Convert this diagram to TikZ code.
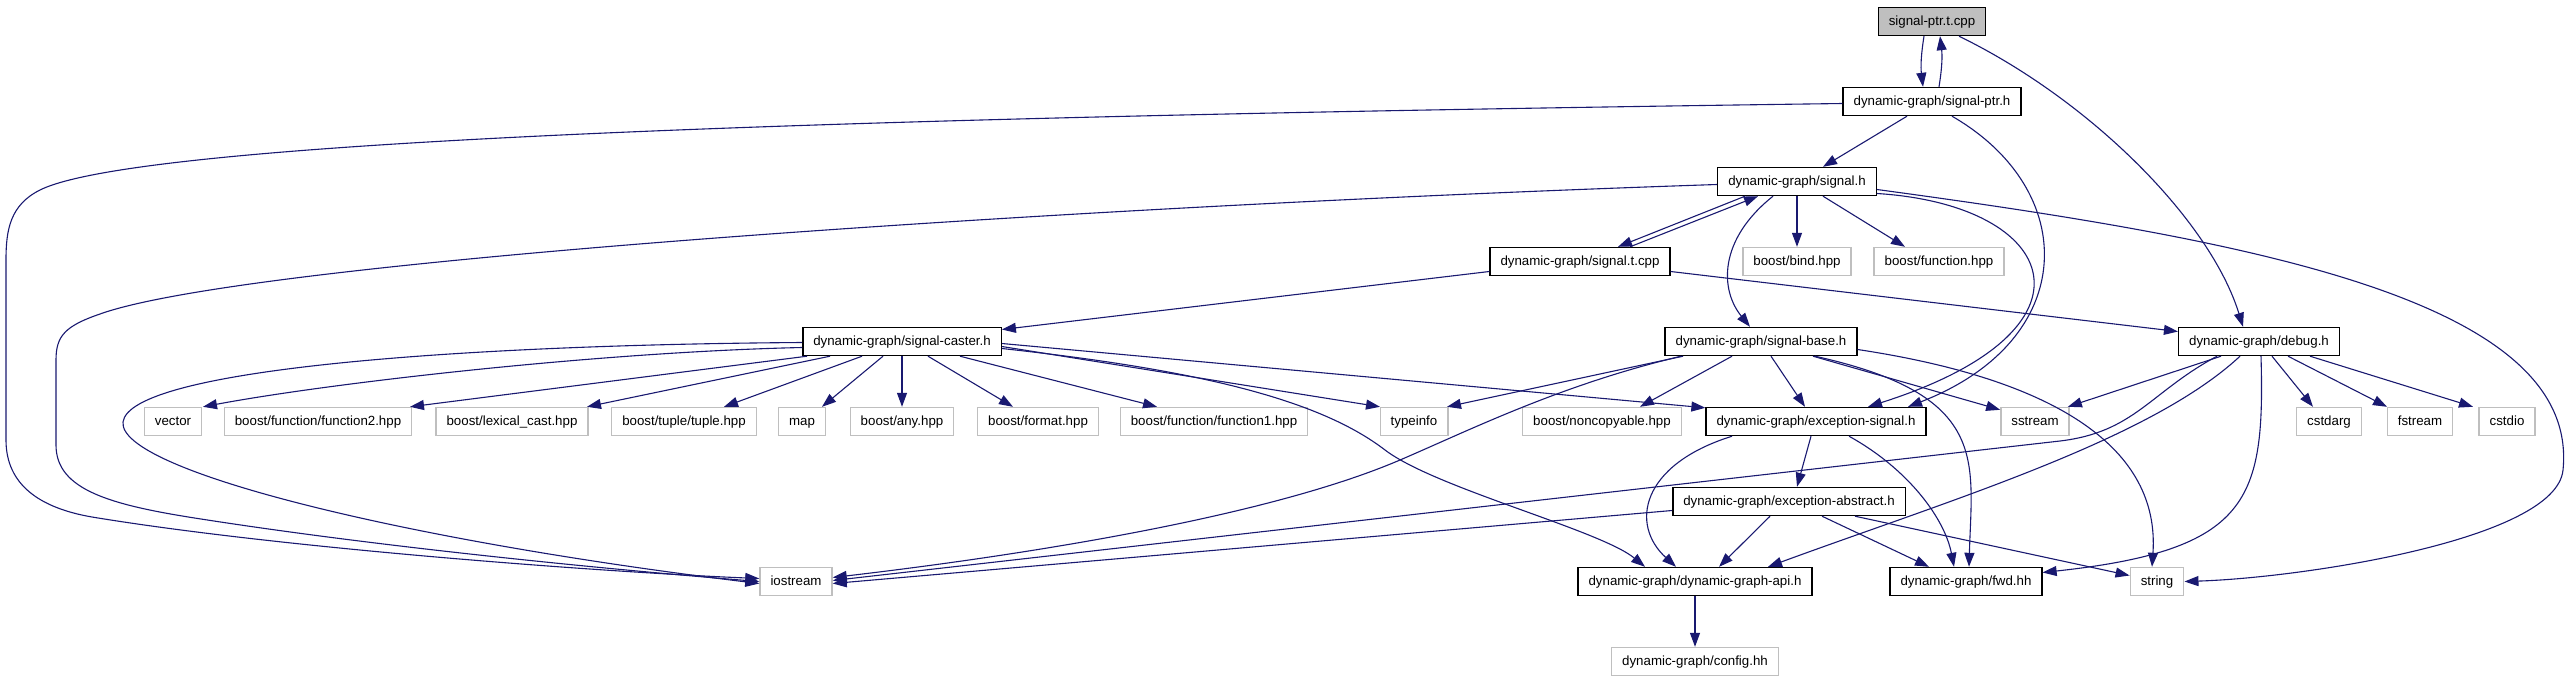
\documentclass[tikz,border=0pt]{standalone}
\usepackage{fontspec}
\setmainfont{Liberation Sans}
\usetikzlibrary{arrows.meta}
\definecolor{edgeblue}{HTML}{191970}
\definecolor{sysgrey}{HTML}{BFBFBF}

\begin{document}
\begin{tikzpicture}[x=1pt, y=-1pt,
    file/.style={draw=black, line width=1.4pt, fill=white, font=\fontsize{13.3}{16}\selectfont,
      inner xsep=10.5pt, inner ysep=0pt, minimum height=28pt, text height=9.6pt, text depth=2.6pt},
    sys/.style={file, draw=sysgrey},
    root/.style={file, fill=sysgrey},
    inc/.style={draw=edgeblue, line width=1.1pt, -{Triangle[length=14pt,width=10pt]}}]

  \useasboundingbox (0,0) rectangle (2569,683);

  \node[root] (ptrt) at (1932,21.5) {signal-ptr.t.cpp};
  \node[file] (ptrh) at (1932,101.5) {dynamic-graph/signal-ptr.h};
  \node[file] (sig) at (1797,181.5) {dynamic-graph/signal.h};
  \node[file] (sigt) at (1580,261.5) {dynamic-graph/signal.t.cpp};
  \node[sys] (bind) at (1797,261.5) {boost/bind.hpp};
  \node[sys] (func) at (1939,261.5) {boost/function.hpp};
  \node[file] (caster) at (902,341.5) {dynamic-graph/signal-caster.h};
  \node[file] (base) at (1761,341.5) {dynamic-graph/signal-base.h};
  \node[file] (debug) at (2259,341.5) {dynamic-graph/debug.h};

  \node[sys] (vector) at (173,421.5) {vector};
  \node[sys] (ftwo) at (318,421.5) {boost/function/function2.hpp};
  \node[sys] (lexcast) at (512,421.5) {boost/lexical\_cast.hpp};
  \node[sys] (tuple) at (684,421.5) {boost/tuple/tuple.hpp};
  \node[sys] (map) at (802,421.5) {map};
  \node[sys] (any) at (902,421.5) {boost/any.hpp};
  \node[sys] (format) at (1038,421.5) {boost/format.hpp};
  \node[sys] (fone) at (1214,421.5) {boost/function/function1.hpp};
  \node[sys] (typeinfo) at (1414,421.5) {typeinfo};
  \node[sys] (noncopy) at (1602,421.5) {boost/noncopyable.hpp};
  \node[file] (excsig) at (1816,421.5) {dynamic-graph/exception-signal.h};
  \node[sys] (sstream) at (2035,421.5) {sstream};
  \node[sys] (cstdarg) at (2329,421.5) {cstdarg};
  \node[sys] (fstream) at (2420,421.5) {fstream};
  \node[sys] (cstdio) at (2507,421.5) {cstdio};

  \node[file] (excabs) at (1789,501.5) {dynamic-graph/exception-abstract.h};
  \node[sys] (iostream) at (796,581.5) {iostream};
  \node[file] (api) at (1695,581.5) {dynamic-graph/dynamic-graph-api.h};
  \node[file] (fwd) at (1966,581.5) {dynamic-graph/fwd.hh};
  \node[sys] (string) at (2157,581.5) {string};
  \node[sys] (config) at (1695,661.5) {dynamic-graph/config.hh};

  % signal-ptr
  \draw[inc] ([xshift=-8pt]ptrt.south) to[bend right=8] ([xshift=-9pt]ptrh.north);
  \draw[inc] ([xshift=7pt]ptrh.north) to[bend right=8] ([xshift=8pt]ptrt.south);
  \draw[inc] ([xshift=27pt]ptrt.south) .. controls (2090,100) and (2210,220) .. ([xshift=-16pt]debug.north);
  \draw[inc] ([xshift=-25pt]ptrh.south) -- ([xshift=26pt]sig.north);
  \draw[inc] ([xshift=20pt]ptrh.south) .. controls (2080,190) and (2080,340) .. ([xshift=92pt]excsig.north);
  \draw[inc] ([yshift=-2pt]ptrh.west) .. controls (1000,115) and (150,135) .. (40,190)
    .. controls (10,205) and (6,230) .. (6,260) -- (6,440)
    .. controls (6,485) and (40,508) .. (92,517)
    .. controls (280,548) and (600,572) .. ([yshift=3pt]iostream.west);

  % signal
  \draw[inc] ([xshift=-52pt]sig.south) -- ([xshift=38pt]sigt.north);
  \draw[inc] ([xshift=50pt]sigt.north) -- ([xshift=-39pt]sig.south);
  \draw[inc] (sig) -- (bind);
  \draw[inc] ([xshift=26pt]sig.south) -- ([xshift=-34pt]func.north);
  \draw[inc] ([xshift=-24pt]sig.south) .. controls (1718,240) and (1720,290) .. ([xshift=-11pt]base.north);
  \draw[inc] ([yshift=-12pt]sig.east) .. controls (2060,205) and (2110,330) .. ([xshift=52pt]excsig.north);
  \draw[inc] ([yshift=-8pt]sig.east) .. controls (2250,240) and (2580,300) .. (2563,470)
    .. controls (2556,540) and (2300,578) .. (string.east);
  \draw[inc] ([yshift=-3pt]sig.west) .. controls (1100,205) and (250,260) .. (100,314)
    .. controls (65,326) and (56,336) .. (56,360) -- (56,445)
    .. controls (56,490) and (110,505) .. (201,519)
    .. controls (400,550) and (640,572) .. (iostream.west);
  \draw[inc] ([yshift=-10pt]sigt.west) -- ([yshift=12pt]caster.east);
  \draw[inc] ([yshift=-10pt]sigt.east) -- ([yshift=10pt]debug.west);

  % signal-caster
  \draw[inc] ([yshift=-6pt]caster.west) .. controls (600,352) and (330,383) .. ([xshift=30pt]vector.north);
  \foreach \dst/\sx/\tx in {ftwo/-95/92, lexcast/-72/75, tuple/-40/40, map/-19/20, any/0/0, format/26/-25, fone/58/-57}
    \draw[inc] ([xshift=\sx pt]caster.south) -- ([xshift=\tx pt]\dst.north);
  \draw[inc] ([yshift=-5pt]caster.east) -- ([xshift=-34pt]typeinfo.north);
  \draw[inc] ([yshift=-2pt]caster.east) -- ([yshift=-1pt]excsig.north west);
  \draw[inc] ([yshift=-7pt]caster.east) .. controls (1200,370) and (1320,400) .. (1385,450)
    .. controls (1435,488) and (1600,530) .. ([xshift=-50pt]api.north);
  \draw[inc] ([yshift=-1pt]caster.west) .. controls (450,345) and (130,370) .. (123,422)
    .. controls (118,470) and (400,540) .. ([yshift=-2pt]iostream.west);

  % signal-base
  \draw[inc] ([xshift=-78pt]base.south) -- ([xshift=33pt]typeinfo.north);
  \draw[inc] ([xshift=-29pt]base.south) -- ([xshift=38pt]noncopy.north);
  \draw[inc] ([xshift=10pt]base.south) -- ([xshift=-11pt]excsig.north);
  \draw[inc] ([xshift=52pt]base.south) -- ([yshift=-3pt]sstream.north west);
  \draw[inc] ([xshift=54pt]base.south) .. controls (1990,395) and (1972,460) .. ([xshift=3pt]fwd.north);
  \draw[inc] ([yshift=-8pt]base.east) .. controls (2060,380) and (2160,450) .. ([xshift=-5pt]string.north);
  \draw[inc] ([xshift=-80pt]base.south) .. controls (1560,385) and (1470,430) .. (1400,460)
    .. controls (1260,520) and (1000,558) .. ([yshift=4pt]iostream.east);

  % debug
  \draw[inc] ([xshift=-38pt]debug.south) -- ([xshift=-2pt]sstream.north east);
  \foreach \dst/\sx/\tx in {cstdarg/13/-16, fstream/29/-33, cstdio/51/-34}
    \draw[inc] ([xshift=\sx pt]debug.south) -- ([xshift=\tx pt]\dst.north);
  \draw[inc] ([xshift=-42pt]debug.south) .. controls (2150,392) and (2135,432) .. (2060,441)
    -- ([yshift=1pt]iostream.east);
  \draw[inc] ([xshift=-19pt]debug.south) .. controls (2150,440) and (1950,500) .. ([xshift=73pt]api.north);
  \draw[inc] ([xshift=2pt]debug.south) .. controls (2265,500) and (2250,550) .. ([yshift=9pt]fwd.east);

  % exceptions
  \draw[inc] ([xshift=-5pt]excsig.south) -- ([xshift=8pt]excabs.north);
  \draw[inc] ([xshift=-84pt]excsig.south) .. controls (1640,465) and (1630,525) .. ([xshift=-19pt]api.north);
  \draw[inc] ([xshift=33pt]excsig.south) .. controls (1910,470) and (1945,520) .. ([xshift=-12pt]fwd.north);
  \draw[inc] ([yshift=-9pt]excabs.west) -- ([yshift=-2pt]iostream.east);
  \draw[inc] ([xshift=-19pt]excabs.south) -- ([xshift=24pt]api.north);
  \draw[inc] ([xshift=33pt]excabs.south) -- ([xshift=-37pt]fwd.north);
  \draw[inc] ([xshift=66pt]excabs.south) -- ([yshift=6pt]string.west);

  \draw[inc] (api) -- (config);

\end{tikzpicture}
\end{document}
